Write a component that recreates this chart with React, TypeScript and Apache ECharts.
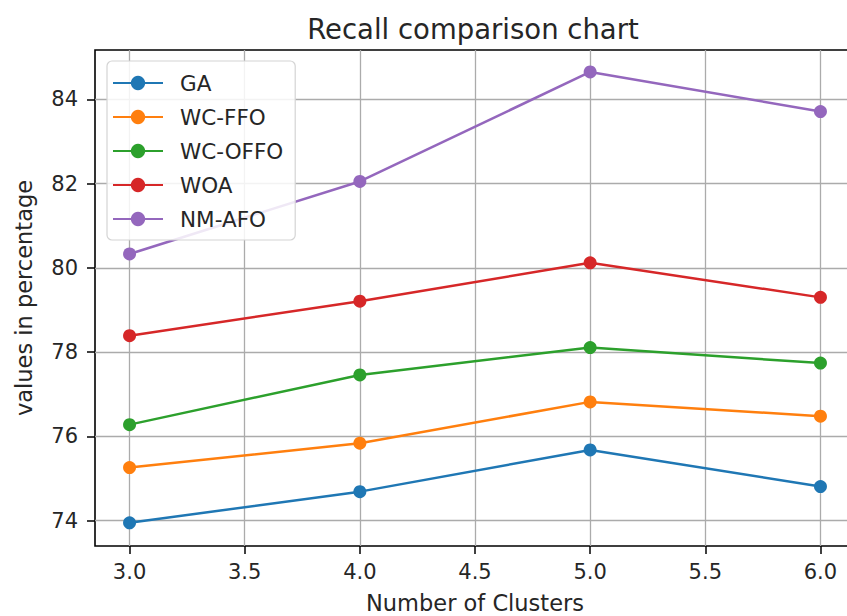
import React, { useEffect, useRef } from "react";
import * as echarts from "echarts";

const clusters = [3, 4, 5, 6];
const seriesNames = ["GA", "WC-FFO", "WC-OFFO", "WOA", "NM-AFO"];
const gaValues = [73.95, 74.69, 75.68, 74.81];
const wcFfoValues = [75.26, 75.84, 76.82, 76.48];
const wcOffoValues = [76.28, 77.46, 78.11, 77.74];
const woaValues = [78.39, 79.21, 80.12, 79.3];
const nmAfoValues = [80.33, 82.05, 84.65, 83.71];
const xTicks = [3.0, 3.5, 4.0, 4.5, 5.0, 5.5, 6.0];
const yTicks = [74, 76, 78, 80, 82, 84];
const colors = ["#1f77b4", "#ff7f0e", "#2ca02c", "#d62728", "#9467bd"];

const FONT = "DejaVu Sans";
const TEXT = "#262626";

export default function App() {
  const ref = useRef<HTMLDivElement>(null);
  useEffect(() => {
    if (!ref.current) return;
    const chart = echarts.init(ref.current, null, { renderer: "svg" });
    const allValues = [gaValues, wcFfoValues, wcOffoValues, woaValues, nmAfoValues];
    const series = seriesNames.map((name, i) => ({
      name,
      type: "line",
      data: clusters.map((c, j) => [c, allValues[i][j]]),
      symbol: "circle",
      symbolSize: 13,
      showSymbol: true,
      lineStyle: { color: colors[i], width: 2.5 },
      itemStyle: { color: colors[i] },
      color: colors[i],
      clip: false,
      z: 3,
    }));
    chart.setOption({
      animation: false,
      backgroundColor: "#ffffff",
      title: {
        text: "Recall comparison chart",
        left: 468,
        textAlign: "center",
        top: 10,
        textStyle: { fontFamily: FONT, fontSize: 27.5, fontWeight: "normal", color: TEXT },
      },
      legend: {
        orient: "vertical",
        left: 107,
        top: 61,
        itemWidth: 50,
        itemHeight: 18,
        itemGap: 12,
        padding: [11, 12, 10, 5],
        backgroundColor: "rgba(255,255,255,0.85)",
        borderColor: "#d4d4d4",
        borderWidth: 1.2,
        borderRadius: 5,
        textStyle: {
          fontFamily: FONT,
          fontSize: 21.5,
          color: TEXT,
          lineHeight: 20.5,
          padding: [0, 0, 0, 12],
        },
        data: seriesNames,
      },
      grid: {
        left: 95,
        top: 50,
        width: 760,
        height: 496,
        show: true,
        borderColor: "#000",
        borderWidth: 1.6,
        backgroundColor: "transparent",
        outerBoundsMode: "none",
        containLabel: false,
      },
      xAxis: {
        type: "value",
        min: 2.85,
        max: 6.15,
        name: "Number of Clusters",
        nameLocation: "middle",
        nameGap: 45,
        nameTextStyle: { fontFamily: FONT, fontSize: 22.5, color: TEXT },
        axisLine: { show: false },
        axisTick: {
          show: true,
          length: 8,
          customValues: xTicks,
          lineStyle: { color: "#000", width: 1.5 },
        },
        axisLabel: {
          customValues: xTicks,
          margin: 15,
          fontFamily: FONT,
          fontSize: 21,
          color: TEXT,
          formatter: (v: number) => v.toFixed(1),
        },
        splitLine: { show: true, lineStyle: { color: "#ababab", width: 1.3 } },
      },
      yAxis: {
        type: "value",
        min: 73.4,
        max: 85.17,
        name: "values in percentage",
        nameLocation: "middle",
        nameGap: 60,
        nameTextStyle: { fontFamily: FONT, fontSize: 22.5, color: TEXT },
        axisLine: { show: false },
        axisTick: {
          show: true,
          length: 8,
          customValues: yTicks,
          lineStyle: { color: "#000", width: 1.5 },
        },
        axisLabel: {
          customValues: yTicks,
          margin: 17,
          fontFamily: FONT,
          fontSize: 21,
          color: TEXT,
          formatter: (v: number) => String(Math.round(v)),
        },
        splitLine: { show: true, lineStyle: { color: "#ababab", width: 1.3 } },
      },
      series,
    });
    return () => chart.dispose();
  }, []);
  return (
    <div
      ref={ref}
      style={{ position: "fixed", left: 0, top: 0, width: 847, height: 616, background: "#fff" }}
    />
  );
}
